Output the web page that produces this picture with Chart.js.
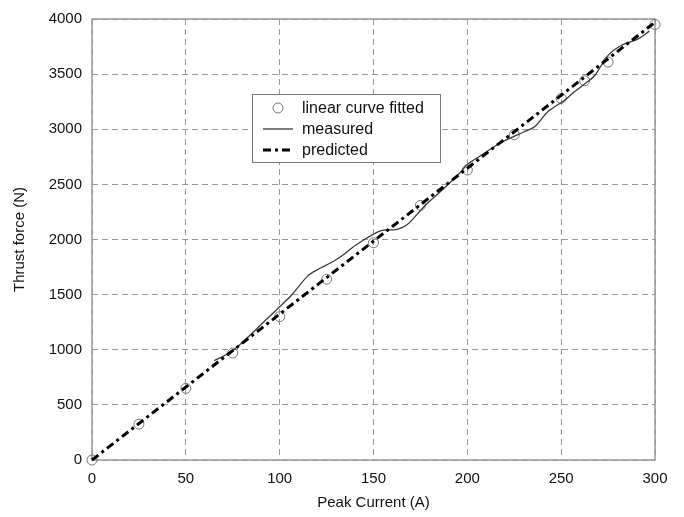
<!DOCTYPE html>
<html>
<head>
<meta charset="utf-8">
<script src="https://cdn.jsdelivr.net/npm/chart.js"></script>
<style>
  html, body { margin: 0; padding: 0; background: #fff; }
  #wrap { width: 684px; height: 517px; }
</style>
</head>
<body>
<div id="wrap"><canvas id="thrustChart" width="684" height="517"></canvas></div>
<script>
// Linear fit samples (circles)
var fitCurrent = [0, 25, 50, 75, 100, 125, 150, 175, 200, 225, 250, 262.5, 275, 300];
var fitForce = [0, 325, 650, 970, 1300, 1640, 1970, 2310, 2630, 2950, 3280, 3440, 3610, 3950];

// Measured thrust (thin solid line)
var measCurrent = [65, 74, 81, 92, 100, 106, 115, 120, 129, 133, 141, 154, 162, 168, 177, 186, 195, 200,
    207, 218, 230, 236, 243, 252, 257, 264, 268, 275, 282, 291, 297];
var measForce = [900, 980, 1080, 1260, 1390, 1490, 1670, 1725, 1805, 1850, 1955, 2080, 2090, 2135, 2300,
    2440, 2585, 2680, 2760, 2880, 2975, 3025, 3160, 3265, 3340, 3430, 3490, 3670, 3760, 3820, 3890];

// Predicted thrust (dash-dot line)
var predCurrent = [0, 300];
var predForce = [0, 3970];

var xTicks = [0, 50, 100, 150, 200, 250, 300];
var yTicks = [0, 500, 1000, 1500, 2000, 2500, 3000, 3500, 4000];

var toPoints = function(xs, ys) {
    return xs.map(function(x, i) {
        return {x: x, y: ys[i]};
    });
};

var FONT = 'Liberation Sans, Arial, sans-serif';

// frame around the plot area
var frame = {
    id: 'frame',
    beforeDatasetsDraw: function(chart) {
        var a = chart.chartArea;
        var c = chart.ctx;
        c.save();
        c.strokeStyle = '#9a9a9a';
        c.lineWidth = 1.5;
        c.setLineDash([]);
        c.strokeRect(a.left, a.top, a.right - a.left, a.bottom - a.top);
        c.restore();
    }
};

// boxed legend inside the plot, MATLAB style
var boxLegend = {
    id: 'boxLegend',
    afterDatasetsDraw: function(chart) {
        var c = chart.ctx;
        var x = 252, y = 94, w = 188, h = 68;
        var ds = chart.data.datasets;
        c.save();
        c.fillStyle = '#fff';
        c.fillRect(x, y, w, h);
        c.strokeStyle = '#777';
        c.lineWidth = 1;
        c.strokeRect(x + 0.5, y + 0.5, w, h);
        c.font = '16px ' + FONT;
        c.fillStyle = '#111';
        c.textBaseline = 'middle';
        var rows = [108, 129, 150];
        for (var i = 0; i < ds.length; i++) {
            var ry = rows[i];
            if (i === 0) {
                c.beginPath();
                c.arc(278, ry, 5, 0, Math.PI * 2);
                c.strokeStyle = ds[i].borderColor;
                c.lineWidth = 1;
                c.stroke();
            } else {
                c.beginPath();
                c.moveTo(263, ry);
                c.lineTo(293, ry);
                c.strokeStyle = ds[i].borderColor;
                c.lineWidth = ds[i].borderWidth;
                c.setLineDash(ds[i].borderDash || []);
                c.stroke();
                c.setLineDash([]);
            }
            c.fillText(ds[i].label, 302, ry + 1);
        }
        c.restore();
    }
};

var plainTick = function(value) {
    return String(value);
};

new Chart(document.getElementById('thrustChart'), {
    type: 'scatter',
    data: {
        datasets: [{
            label: 'linear curve fitted',
            data: toPoints(fitCurrent, fitForce),
            showLine: false,
            pointStyle: 'circle',
            pointRadius: 5,
            pointBorderWidth: 1,
            borderColor: '#777',
            backgroundColor: 'rgba(0,0,0,0)',
            clip: false,
            order: 3
        }, {
            label: 'measured',
            data: toPoints(measCurrent, measForce),
            showLine: true,
            borderColor: '#3a3a3a',
            borderWidth: 1.3,
            pointRadius: 0,
            tension: 0.3,
            order: 2
        }, {
            label: 'predicted',
            data: toPoints(predCurrent, predForce),
            showLine: true,
            borderColor: '#000',
            borderWidth: 3,
            borderDash: [8, 4, 3, 4],
            pointRadius: 0,
            clip: false,
            order: 1
        }]
    },
    options: {
        responsive: false,
        animation: false,
        events: [],
        layout: {padding: {left: 0, right: 29, top: 17, bottom: 0}},
        plugins: {
            legend: {display: false},
            tooltip: {enabled: false}
        },
        scales: {
            x: {
                type: 'linear',
                min: 0,
                max: 300,
                afterFit: function(scale) { scale.height = 57; },
                afterBuildTicks: function(scale) {
                    scale.ticks = xTicks.map(function(v) { return {value: v}; });
                },
                grid: {
                    color: '#9a9a9a',
                    lineWidth: 1,
                    drawTicks: false
                },
                border: {display: false, dash: [6, 4]},
                ticks: {
                    padding: 10,
                    color: '#111',
                    font: {family: FONT, size: 15},
                    callback: plainTick
                },
                title: {
                    display: true,
                    text: 'Peak Current (A)',
                    color: '#111',
                    font: {family: FONT, size: 15},
                    padding: {top: 0, bottom: 5}
                }
            },
            y: {
                type: 'linear',
                min: 0,
                max: 4000,
                afterFit: function(scale) { scale.width = 92; },
                afterBuildTicks: function(scale) {
                    scale.ticks = yTicks.map(function(v) { return {value: v}; });
                },
                grid: {
                    color: '#9a9a9a',
                    lineWidth: 1,
                    drawTicks: false
                },
                border: {display: false, dash: [6, 4]},
                ticks: {
                    padding: 10,
                    color: '#111',
                    font: {family: FONT, size: 15},
                    callback: plainTick
                },
                title: {
                    display: true,
                    text: 'Thrust force (N)',
                    color: '#111',
                    font: {family: FONT, size: 15},
                    padding: {top: 11, bottom: 0}
                }
            }
        }
    },
    plugins: [frame, boxLegend]
});
</script>
</body>
</html>
